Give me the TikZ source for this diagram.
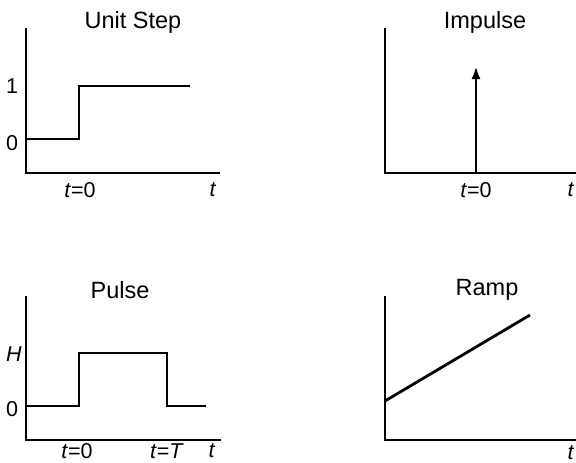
\documentclass[tikz,border=0pt]{standalone}
\usepackage{fontspec}
\setmainfont{Liberation Sans}
\usetikzlibrary{arrows.meta}
\begin{document}
\begin{tikzpicture}[
  x=1pt,y=-1pt,
  axis/.style={line width=2.6pt,draw=black,line cap=rect},
  signal/.style={line width=2.8pt,draw=black,line join=miter},
  title/.style={font=\fontsize{23.5}{26}\selectfont},
  lbl/.style={font=\fontsize{21.5}{24}\selectfont,inner sep=0pt},
  arrow/.style={-{Latex[length=13pt,width=9pt]},line width=2.8pt,draw=black}
]
\useasboundingbox (0,0) rectangle (576,463);
% unit step
\coordinate (sTop) at (26,29);
\coordinate (sO) at (26,173);
\coordinate (sEnd) at (219,173);
\node[title] (sTitle) at (133,22) {Unit Step};
\node[lbl] (sOne) at (12,86) {1};
\node[lbl] (sZero) at (12,143) {0};
\node[lbl] (sT0) at (80,190) {\textit{t}=0};
\node[lbl] (sT) at (213,190) {\textit{t}};
\draw[axis] (sTop) -- (sO) -- (sEnd);
\draw[signal] (26,139) -- (79,139) -- (79,86) -- (190,86);
% impulse
\coordinate (iTop) at (385,29);
\coordinate (iO) at (385,173);
\coordinate (iEnd) at (576,173);
\coordinate (iBase) at (476,173);
\coordinate (iTip) at (476,66);
\node[title] (iTitle) at (485,22) {Impulse};
\node[lbl] (iT0) at (476,190) {\textit{t}=0};
\node[lbl] (iT) at (571,190) {\textit{t}};
\draw[axis] (iTop) -- (iO) -- (iEnd);
\draw[arrow] (iBase) -- (iTip);
% pulse
\coordinate (pTop) at (26,297);
\coordinate (pO) at (26,440);
\coordinate (pEnd) at (220,440);
\node[title] (pTitle) at (120,290) {Pulse};
\node[lbl] (pH) at (14,354) {\textit{H}};
\node[lbl] (pZero) at (12,409) {0};
\node[lbl] (pT0) at (77,451) {\textit{t}=0};
\node[lbl] (pTT) at (167,451) {\textit{t}=\textit{T}};
\node[lbl] (pT) at (212,451) {\textit{t}};
\draw[axis] (pTop) -- (pO) -- (pEnd);
\draw[signal] (26,406) -- (79,406) -- (79,353) -- (167,353) -- (167,406) -- (206,406);
% ramp
\coordinate (rTop) at (385,297);
\coordinate (rO) at (385,440);
\coordinate (rEnd) at (576,440);
\coordinate (rStart) at (385,401);
\coordinate (rStop) at (530,315);
\node[title] (rTitle) at (487,290) {Ramp};
\node[lbl] (rT) at (571,453) {\textit{t}};
\draw[axis] (rTop) -- (rO) -- (rEnd);
\draw[signal] (rStart) -- (rStop);
\end{tikzpicture}
\end{document}
